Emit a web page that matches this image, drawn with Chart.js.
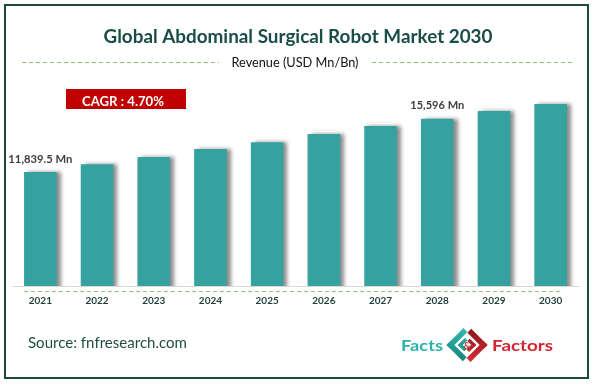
<!DOCTYPE html>
<html><head><meta charset="utf-8">
<script src="https://cdn.jsdelivr.net/npm/chart.js@4/dist/chart.umd.min.js"></script>
<style>html,body{margin:0;padding:0;background:#fff;overflow:hidden}canvas{display:block}</style>
</head><body><canvas id="c" width="597" height="385"></canvas>
<script>
const categories = ['2021','2022','2023','2024','2025','2026','2027','2028','2029','2030'];
const revenue = [11839.5, 12383, 12898, 13463, 13935, 14521, 15085, 15596, 16143, 16636];
const valueLabels = ['11,839.5 Mn','','','','','','','15,596 Mn','',''];
const titleText = 'Global Abdominal Surgical Robot Market 2030';
const subtitleText = 'Revenue (USD Mn/Bn)';
const cagrText = 'CAGR : 4.70%';
const sourceText = 'Source: fnfresearch.com';
const logoLeft = 'Facts';
const logoRight = 'Factors';

const FAM = 'Lato, "Open Sans", sans-serif';

function fitText(ctx, text, x, y, font, color, targetW, align) {
  ctx.save();
  ctx.font = font; ctx.fillStyle = color; ctx.textBaseline = 'alphabetic'; ctx.textAlign = 'left';
  const w = ctx.measureText(text).width;
  const k = targetW / w;
  const x0 = align === 'center' ? x - targetW / 2 : (align === 'right' ? x - targetW : x);
  ctx.translate(x0, y); ctx.scale(k, 1);
  ctx.fillText(text, 0, 0);
  ctx.restore();
}

function dashed(ctx, x1, x2, y, color) {
  ctx.save();
  ctx.strokeStyle = color; ctx.lineWidth = 1; ctx.setLineDash([4, 3]);
  ctx.beginPath(); ctx.moveTo(x1, y + 0.5); ctx.lineTo(x2, y + 0.5); ctx.stroke();
  ctx.restore();
}

function drawLogo(ctx) {
  fitText(ctx, logoLeft, 401, 351, 'bold 16px ' + FAM, '#2bb1aa', 42, 'left');
  fitText(ctx, logoRight, 492, 351, 'bold 16px ' + FAM, '#d1262f', 61, 'left');
  ctx.save();
  ctx.translate(467, 345);
  ctx.rotate(Math.PI / 4);
  const s = 14.5, t = 5.5;
  // teal outer L (left + bottom in rotated frame)
  const gT = ctx.createLinearGradient(-s, -s, s, s);
  gT.addColorStop(0, '#35c0b6'); gT.addColorStop(1, '#167a74');
  ctx.fillStyle = gT;
  ctx.fillRect(-s, -s + 5, t, 2 * s - 5);
  ctx.fillRect(-s, s - t, 2 * s - 6, t);
  // teal inner L
  const i = 8, ti = 3.5;
  ctx.fillRect(-s + i, -s + i + 3, ti, 2 * (s - i) - 3);
  ctx.fillRect(-s + i, s - i - ti, 2 * (s - i) - 4, ti);
  // red outer (top + right)
  const gR = ctx.createLinearGradient(-s, -s, s, s);
  gR.addColorStop(0, '#7e1416'); gR.addColorStop(1, '#e0313a');
  ctx.fillStyle = gR;
  ctx.fillRect(-s + 6, -s, 2 * s - 6, t);
  ctx.fillRect(s - t, -s, t, 2 * s - 5);
  // red inner
  ctx.fillRect(-s + i + 4, -s + i, 2 * (s - i) - 4, ti);
  ctx.fillRect(s - i - ti, -s + i, ti, 2 * (s - i) - 3);
  ctx.restore();
  ctx.save();
  ctx.font = 'bold 9px ' + FAM; ctx.fillStyle = '#c0392b'; ctx.textAlign = 'center'; ctx.textBaseline = 'middle';
  ctx.fillText('&', 467, 346);
  ctx.restore();
}

const deco = {
  id: 'deco',
  beforeDraw(chart) {
    const ctx = chart.ctx;
    ctx.save();
    ctx.fillStyle = '#ffffff';
    ctx.fillRect(0, 0, chart.width, chart.height);
    ctx.restore();
  },
  beforeDatasetsDraw(chart) {
    const ctx = chart.ctx;
    ctx.save();
    ctx.shadowColor = 'rgba(0,0,0,0.45)';
    ctx.shadowOffsetX = 4;
    ctx.shadowOffsetY = 0;
    ctx.shadowBlur = 4;
  },
  afterDatasetsDraw(chart) {
    const ctx = chart.ctx;
    ctx.restore();
    const meta = chart.getDatasetMeta(0);
    meta.data.forEach((bar, idx) => {
      if (valueLabels[idx]) {
        const w = idx === 0 ? 64 : 54;
        fitText(ctx, valueLabels[idx], bar.x, bar.y - 9.5, 'bold 11px ' + FAM, '#404040', w, 'center');
      }
    });
  },
  afterDraw(chart) {
    const ctx = chart.ctx;
    // border
    ctx.save();
    ctx.strokeStyle = '#1b4a3b'; ctx.lineWidth = 2;
    ctx.strokeRect(5, 5, 583, 373);
    ctx.restore();
    // title
    fitText(ctx, titleText, 298, 43, 'bold 18px ' + FAM, '#1a4d48', 389, 'center');
    fitText(ctx, subtitleText, 295, 67, '13px ' + FAM, '#111111', 127, 'center');
    dashed(ctx, 22, 219, 62, '#8fc46a');
    dashed(ctx, 372, 575, 62, '#8fc46a');
    // CAGR box
    ctx.save();
    ctx.fillStyle = '#c00000';
    ctx.fillRect(66, 89, 120, 20);
    ctx.restore();
    fitText(ctx, cagrText, 123, 106, 'bold 14px ' + FAM, '#ffffff', 82, 'center');
    // dashed under axis
    dashed(ctx, 24, 560, 291, '#8fc46a');
    // source
    fitText(ctx, sourceText, 28, 348, '15px ' + FAM, '#1f4d43', 159, 'left');
    drawLogo(ctx);
  }
};

new Chart(document.getElementById('c'), {
  type: 'bar',
  data: {
    labels: categories,
    datasets: [{
      data: revenue,
      backgroundColor: '#36a29f',
      borderWidth: 0,
      categoryPercentage: 1,
      barPercentage: 0.575
    }]
  },
  options: {
    responsive: false,
    animation: false,
    devicePixelRatio: 1,
    layout: { padding: { left: 12, right: 18, top: 79, bottom: 79 } },
    plugins: { legend: { display: false }, tooltip: { enabled: false }, title: { display: false } },
    scales: {
      x: {
        grid: { display: false, drawTicks: false },
        border: { display: true, color: '#d9d9d9', width: 1 },
        ticks: { color: '#1f3d37', font: { family: FAM, weight: 'bold', size: 10 }, padding: 9, maxRotation: 0 },
        afterFit(s) { s.height = 20; }
      },
      y: { display: false, min: 3800, max: 18400 }
    }
  },
  plugins: [deco]
});
</script>
</body></html>
